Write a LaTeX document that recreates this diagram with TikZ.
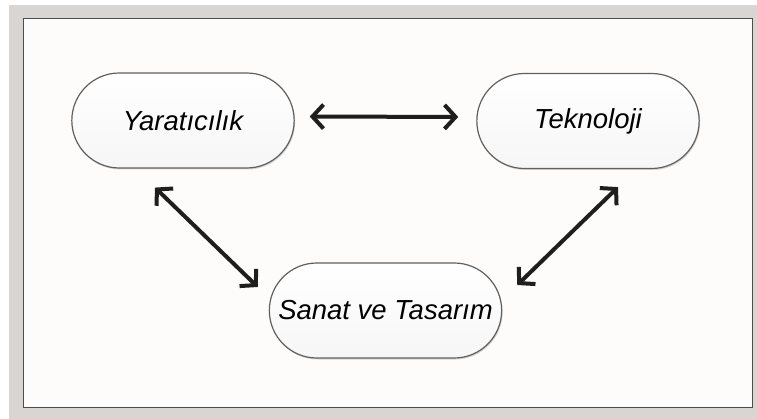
\documentclass[tikz,border=0pt]{standalone}
\usepackage{fontspec}
\setmainfont{Liberation Sans}
\usetikzlibrary{arrows.meta,calc,shadows,shapes.misc}
\definecolor{framegray}{HTML}{D8D5D2}
\definecolor{paper}{HTML}{FDFCFA}
\definecolor{inkblack}{HTML}{1E1E1C}
\tikzset{
  pill/.style={rounded rectangle, draw=gray!75!black, line width=1.2pt,
    minimum width=229pt, minimum height=95pt, top color=white, bottom color=gray!7,
    drop shadow={shadow xshift=1pt, shadow yshift=-1.5pt, opacity=0.3},
    font=\fontsize{27.5}{33}\selectfont\itshape},
  biarrow/.style={{Straight Barb[length=11pt,width=24pt]}-{Straight Barb[length=11pt,width=24pt]},
    line width=4pt, draw=inkblack}
}
\begin{document}
\begin{tikzpicture}[x=1pt,y=-1pt]
  \useasboundingbox (0,0) rectangle (757,419);
  \fill[framegray] (9,5) rectangle (757,419);
  \draw[fill=paper, draw=gray!60!black, line width=1pt] (23,19) rectangle (752,407);
  % the three ideas
  \node[pill] (yar) at (183,120.5) {Yaratıcılık};
  \node[pill] (tek) at (588,121) {Teknoloji};
  \node[pill, minimum width=239pt] (san) at (385.5,310.5) {Sanat ve Tasarım};
  % free ends of the slanted arrows
  \coordinate (ys) at ($(yar.south)+(-28,19)$);
  \coordinate (sw) at ($(san.west)+(-11,-23.5)$);
  \coordinate (se) at ($(san.east)+(15,-25.5)$);
  \coordinate (ts) at ($(tek.south)+(30,18)$);
  \draw[biarrow, shorten <=15pt, shorten >=18pt] ([yshift=4pt]yar.east) -- ([yshift=4pt]tek.west);
  \draw[biarrow] (ys) -- (sw);
  \draw[biarrow] (se) -- (ts);
\end{tikzpicture}
\end{document}
